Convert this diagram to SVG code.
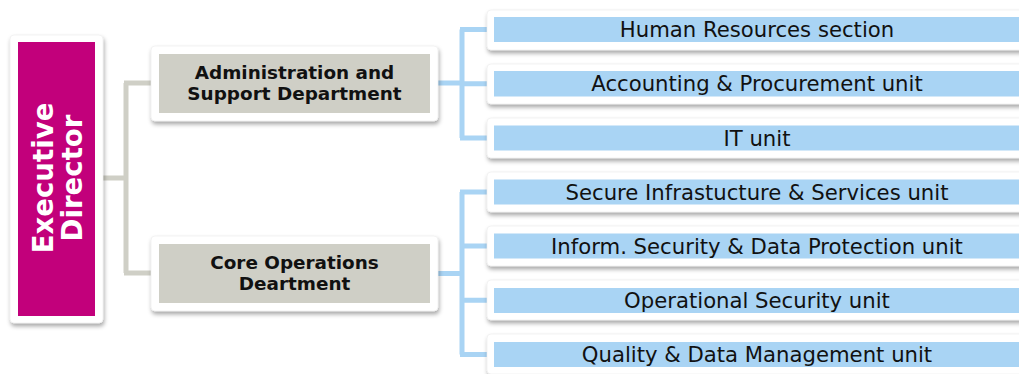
<svg xmlns="http://www.w3.org/2000/svg" width="1019" height="374" viewBox="0 0 1019 374">
<defs>
<filter id="sh" x="-10%" y="-20%" width="120%" height="150%">
<feDropShadow dx="1" dy="3" stdDeviation="2" flood-color="#000" flood-opacity="0.35"/>
</filter>
<style>
.card{fill:#fff;stroke:#e6e6e6;stroke-width:0.5;filter:url(#sh)}
.exec{fill:#c2007b}
.dept{fill:#cfcfc6}
.unit{fill:#a9d4f4}
.et{font-family:"DejaVu Sans",Verdana,sans-serif;font-weight:bold;font-size:27.6px;fill:#fff;text-anchor:middle}
.dt{font-family:"DejaVu Sans",Verdana,sans-serif;font-weight:bold;font-size:18.4px;fill:#111;text-anchor:middle}
.ut{font-family:"DejaVu Sans",Verdana,sans-serif;font-size:21.2px;fill:#111;text-anchor:middle}
.cg{fill:none;stroke:#cfcfc6;stroke-width:5}
.cb{fill:none;stroke:#a9d4f4;stroke-width:5}
</style>
</defs>
<rect width="1019" height="374" fill="#fff"/>
<g id="connectors">
<path class="cg" d="M103,178 H126 M126,83 V273 M124,83 H152 M124,273 H152"/>
<path class="cb" d="M438,83 H462 M462,29.5 V138 M460,29.5 H488 M460,83.7 H488 M460,138 H488"/>
<path class="cb" d="M438,273.5 H462 M462,192 V354.5 M460,192 H488 M460,246 H488 M460,300.3 H488 M460,354.5 H488"/>
</g>
<g id="executive-director">
<rect class="card" x="10" y="35" width="93" height="288" rx="4"/>
<rect class="exec" x="18" y="42" width="77" height="274"/>
<text class="et" transform="translate(53,178) rotate(-90)">Executive</text>
<text class="et" transform="translate(82,178) rotate(-90)">Director</text>
</g>
<g id="admin-dept">
<rect class="card" x="151" y="46" width="287" height="75" rx="4"/>
<rect class="dept" x="159" y="54" width="271" height="59"/>
<text class="dt" x="294.5" y="79">Administration and</text>
<text class="dt" x="294.5" y="100">Support Department</text>
</g>
<g id="core-dept">
<rect class="card" x="151" y="236" width="287" height="75" rx="4"/>
<rect class="dept" x="159" y="244" width="271" height="59"/>
<text class="dt" x="294.5" y="269">Core Operations</text>
<text class="dt" x="294.5" y="290">Deartment</text>
</g>
<g id="unit-hr">
<rect class="card" x="487" y="10" width="545" height="40" rx="4"/>
<rect class="unit" x="494" y="17" width="526" height="25"/>
<text class="ut" x="757" y="37">Human Resources section</text>
</g>
<g id="unit-accounting">
<rect class="card" x="487" y="64" width="545" height="40" rx="4"/>
<rect class="unit" x="494" y="71" width="526" height="25.5"/>
<text class="ut" x="757" y="91">Accounting &amp; Procurement unit</text>
</g>
<g id="unit-it">
<rect class="card" x="487" y="118" width="545" height="40" rx="4"/>
<rect class="unit" x="494" y="125.5" width="526" height="25"/>
<text class="ut" x="757" y="145.5">IT unit</text>
</g>
<g id="unit-secure-infra">
<rect class="card" x="487" y="172" width="545" height="40" rx="4"/>
<rect class="unit" x="494" y="179.5" width="526" height="25"/>
<text class="ut" x="757" y="199.5">Secure Infrastucture &amp; Services unit</text>
</g>
<g id="unit-infosec">
<rect class="card" x="487" y="226" width="545" height="40" rx="4"/>
<rect class="unit" x="494" y="233.5" width="526" height="25"/>
<text class="ut" x="757" y="253.5">Inform. Security &amp; Data Protection unit</text>
</g>
<g id="unit-opsec">
<rect class="card" x="487" y="280" width="545" height="40" rx="4"/>
<rect class="unit" x="494" y="288" width="526" height="25"/>
<text class="ut" x="757" y="308">Operational Security unit</text>
</g>
<g id="unit-quality">
<rect class="card" x="487" y="334" width="545" height="40" rx="4"/>
<rect class="unit" x="494" y="342" width="526" height="25"/>
<text class="ut" x="757" y="362">Quality &amp; Data Management unit</text>
</g>
</svg>
